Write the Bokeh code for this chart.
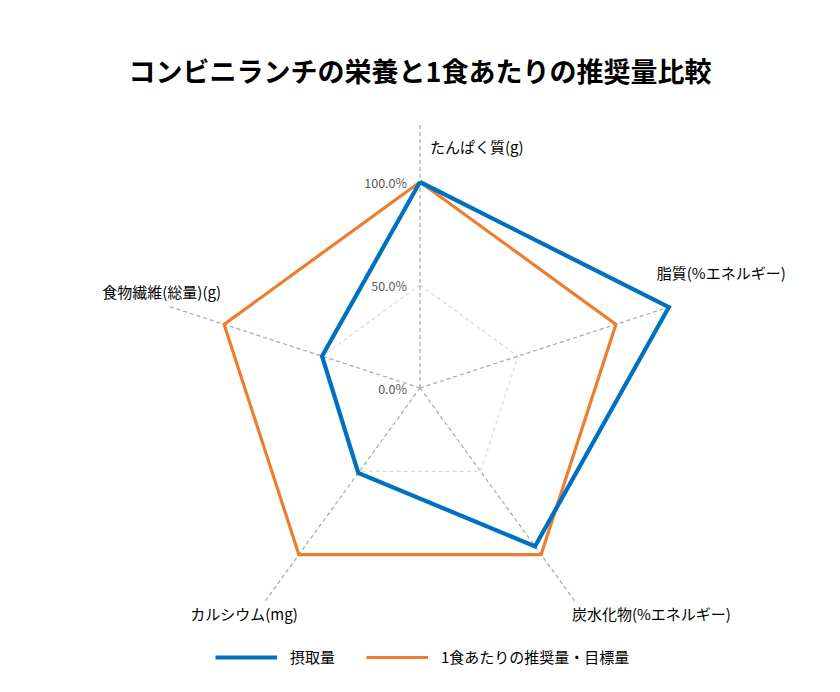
import math
from bokeh.plotting import figure
from bokeh.models import Range1d, Label, Legend, LegendItem, ColumnDataSource
from bokeh.core.properties import value
from bokeh.embed import file_html
from bokeh.resources import INLINE

title_text = "コンビニランチの栄養と1食あたりの推奨量比較"
categories = ["たんぱく質(g)", "脂質(%エネルギー)", "炭水化物(%エネルギー)", "カルシウム(mg)", "食物繊維(総量)(g)"]
intake = [100, 127, 95, 51, 50]
recommended = [100, 100, 100, 100, 100]
series_names = ["摂取量", "1食あたりの推奨量・目標量"]
tick_values = [0, 50, 100]
tick_labels = ["0.0%", "50.0%", "100.0%"]
axis_max = 128

W, H = 824, 676
R100 = 206.0
k = 100.0 / R100
cx, cy_top = 419.5, 387.5
cy_bottom = H - cy_top

JP = "Noto Sans CJK JP"
BLUE = "#0070C0"
ORANGE = "#ED7D31"

p = figure(width=W, height=H, output_backend="svg", toolbar_location=None,
           x_range=Range1d(-cx * k, (W - cx) * k),
           y_range=Range1d(-cy_bottom * k, cy_top * k),
           x_axis_location=None, y_axis_location=None, min_border=0,
           background_fill_color="white", border_fill_color="white")
p.outline_line_color = None
p.grid.visible = False

n = len(categories)
angles = [i * 2 * math.pi / n for i in range(n)]

def pt(r, a):
    return r * math.sin(a), r * math.cos(a)

# grid pentagons
for gv in tick_values[1:]:
    xs = [pt(gv, a)[0] for a in angles] + [pt(gv, angles[0])[0]]
    ys = [pt(gv, a)[1] for a in angles] + [pt(gv, angles[0])[1]]
    p.line(xs, ys, line_color="#d9d9d9", line_width=1.2, line_dash="4 3")

# spokes
for a in angles:
    ex, ey = pt(axis_max, a)
    p.line([0, ex], [0, ey], line_color="#a6a6a6", line_width=1.2, line_dash="4 3")

def closed(vals):
    xs = [pt(v, a)[0] for v, a in zip(vals, angles)]
    ys = [pt(v, a)[1] for v, a in zip(vals, angles)]
    return xs + xs[:1], ys + ys[:1]

ox, oy = closed(recommended)
r_orange = p.line(ox, oy, line_color=ORANGE, line_width=3.2, line_join="miter")
bx, by = closed(intake)
r_blue = p.line(bx, by, line_color=BLUE, line_width=4.2, line_join="miter")

# tick labels
tsrc = ColumnDataSource(dict(x=[0] * len(tick_values), y=tick_values, t=tick_labels))
p.text(x="x", y="y", text="t", source=tsrc, text_font=value(JP), text_font_size="12.5px",
       text_color="#595959", text_align="right", text_baseline="middle", x_offset=-13)

# category labels
aligns = ["left", "left", "left", "right", "right"]
xoffs = [10, -14, -3, 33, 52]
yoffs = [22, -34, 12, 12, -15]
for i, (c, a) in enumerate(zip(categories, angles)):
    ex, ey = pt(axis_max, a)
    p.text(x=[ex], y=[ey], text=[c], text_font=value(JP), text_font_size="15px",
           text_color="#000000", text_align=aligns[i], text_baseline="middle",
           x_offset=xoffs[i], y_offset=yoffs[i])

# title
p.add_layout(Label(x=cx, y=H - 70, x_units="screen", y_units="screen", text=title_text,
                   text_font=JP, text_font_size="27px", text_font_style="bold",
                   text_align="center", text_baseline="middle", text_color="#000000"))

legend = Legend(items=[LegendItem(label=series_names[0], renderers=[r_blue]),
                       LegendItem(label=series_names[1], renderers=[r_orange])],
                orientation="horizontal", location=(215, 9), padding=0, margin=0,
                glyph_width=62, glyph_height=20, label_standoff=13, spacing=31,
                border_line_color=None, background_fill_alpha=0,
                label_text_font=JP, label_text_font_size="15px", label_text_color="#000000")
p.add_layout(legend, "center")

open("out.html", "w").write(file_html(p, INLINE))
